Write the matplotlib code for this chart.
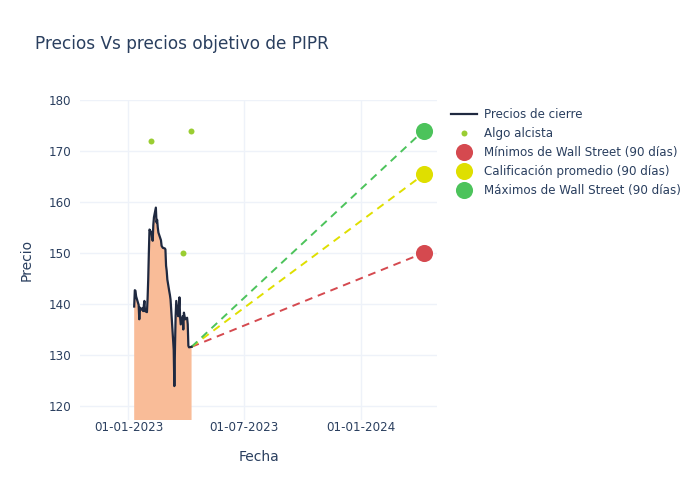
import matplotlib
matplotlib.use("Agg")
import matplotlib.pyplot as plt
import matplotlib.dates as mdates
from matplotlib.lines import Line2D
import pandas as pd

# ---- data ----
dates = pd.to_datetime([
    "2023-01-10", "2023-01-11", "2023-01-12", "2023-01-13", "2023-01-17", "2023-01-18",
    "2023-01-19", "2023-01-20", "2023-01-23", "2023-01-24", "2023-01-25", "2023-01-26",
    "2023-01-27", "2023-01-30", "2023-01-31",
    "2023-02-01", "2023-02-02", "2023-02-03", "2023-02-06", "2023-02-07", "2023-02-08",
    "2023-02-09", "2023-02-10", "2023-02-13", "2023-02-14", "2023-02-15", "2023-02-16",
    "2023-02-17", "2023-02-21", "2023-02-22", "2023-02-23", "2023-02-24", "2023-02-27",
    "2023-02-28",
    "2023-03-01", "2023-03-02", "2023-03-03", "2023-03-06", "2023-03-07", "2023-03-08",
    "2023-03-09", "2023-03-10", "2023-03-13", "2023-03-14", "2023-03-15", "2023-03-16",
    "2023-03-17", "2023-03-20", "2023-03-21", "2023-03-22", "2023-03-23", "2023-03-24",
    "2023-03-27", "2023-03-28", "2023-03-29", "2023-03-30", "2023-03-31",
    "2023-04-03", "2023-04-04", "2023-04-05", "2023-04-06", "2023-04-10",
])
close = [
    139.5, 142.7, 142.6, 141.5, 139.8, 137.0,
    139.3, 138.8, 139.2, 138.6, 139.5, 140.6,
    138.6, 138.4, 141.0,
    144.8, 150.0, 154.6, 154.0, 153.0, 152.4,
    155.5, 157.0, 158.9, 156.0, 156.5, 155.0,
    154.0, 152.5, 151.4, 151.2, 151.0, 150.9,
    150.7,
    147.5, 146.5, 144.8, 142.5, 141.8, 140.9,
    139.0, 137.0, 131.0, 123.9, 131.5, 137.6,
    140.6, 137.6, 139.0, 141.3, 137.5, 136.0,
    137.6, 135.0, 138.3, 137.6, 137.0,
    137.3, 136.0, 131.8, 131.5, 131.6,
]

bull_dates = pd.to_datetime(["2023-02-05", "2023-03-28", "2023-04-09"])
bull_values = [172.0, 150.0, 174.0]

target_date = pd.Timestamp("2024-04-08")
target_low = 150.0
target_avg = 165.4
target_high = 174.0

# ---- style ----
TEXT = "#2a3f5f"
GRID = "#eef2f9"
LINE = "#1f2940"
FILL = "#f9bc98"
RED = "#d5494f"
YEL = "#dfdf00"
GRN = "#4cc35b"
BULL = "#9acd32"

plt.rcParams['font.family'] = ['DejaVu Sans']

fig = plt.figure(figsize=(7, 5), dpi=100)
ax = fig.add_axes([80/700, 80/500, 357/700, 320/500])

ax.fill_between(dates, close, 0, color=FILL, linewidth=0, zorder=1)
ax.plot(dates, close, color=LINE, linewidth=1.6, zorder=3)

ax.plot(bull_dates, bull_values, linestyle="none", marker="o", markersize=4.3,
        color=BULL, markeredgewidth=0, zorder=4)

last_d, last_v = dates[-1], close[-1]
for val, col in [(target_low, RED), (target_avg, YEL), (target_high, GRN)]:
    ax.plot([last_d, target_date], [last_v, val], color=col, linewidth=1.4,
            dashes=(4, 3), zorder=2)
    ax.plot([target_date], [val], marker="o", markersize=12.3, color=col,
            markeredgewidth=0, linestyle="none", zorder=5)

ax.set_xlim(pd.Timestamp("2022-10-17"), pd.Timestamp("2024-04-29"))
ax.set_ylim(117.25, 180.0)

ax.set_xticks(pd.to_datetime(["2023-01-01", "2023-07-01", "2024-01-01"]))
ax.xaxis.set_major_formatter(mdates.DateFormatter("%d-%m-%Y"))
ax.set_yticks([120, 130, 140, 150, 160, 170, 180])

ax.grid(True, color=GRID, linewidth=1, zorder=0)
ax.set_axisbelow(True)
for s in ax.spines.values():
    s.set_visible(False)
ax.tick_params(axis="both", length=0, colors=TEXT, labelsize=8.6)
ax.tick_params(axis="x", pad=1)
ax.tick_params(axis="y", pad=6)

ax.set_xlabel("Fecha", color=TEXT, fontsize=10)
ax.set_ylabel("Precio", color=TEXT, fontsize=10)
ax.xaxis.set_label_coords(0.5, -(450 - 420) / 320)
ax.yaxis.set_label_coords(-(80 - 34) / 357, 0.5)

fig.text(35/700, 1 - 44/500, "Precios Vs precios objetivo de PIPR", color=TEXT,
         fontsize=12.2, va="center", ha="left")

handles = [
    Line2D([0], [0], color=LINE, linewidth=1.6),
    Line2D([0], [0], marker="o", linestyle="none", color=BULL, markersize=4.3, markeredgewidth=0),
    Line2D([0], [0], marker="o", linestyle="none", color=RED, markersize=12.3, markeredgewidth=0),
    Line2D([0], [0], marker="o", linestyle="none", color=YEL, markersize=12.3, markeredgewidth=0),
    Line2D([0], [0], marker="o", linestyle="none", color=GRN, markersize=12.3, markeredgewidth=0),
]
labels = [
    "Precios de cierre",
    "Algo alcista",
    "Mínimos de Wall Street (90 días)",
    "Calificación promedio (90 días)",
    "Máximos de Wall Street (90 días)",
]
leg = fig.legend(handles, labels, loc="upper left", bbox_to_anchor=(451/700, 1 - 108/500),
                 frameon=False, fontsize=8.6, labelcolor=TEXT, handlelength=2.2,
                 handletextpad=0.6, labelspacing=0.5, borderaxespad=0, borderpad=0)

fig.savefig("out.png", dpi=100, facecolor="white")
